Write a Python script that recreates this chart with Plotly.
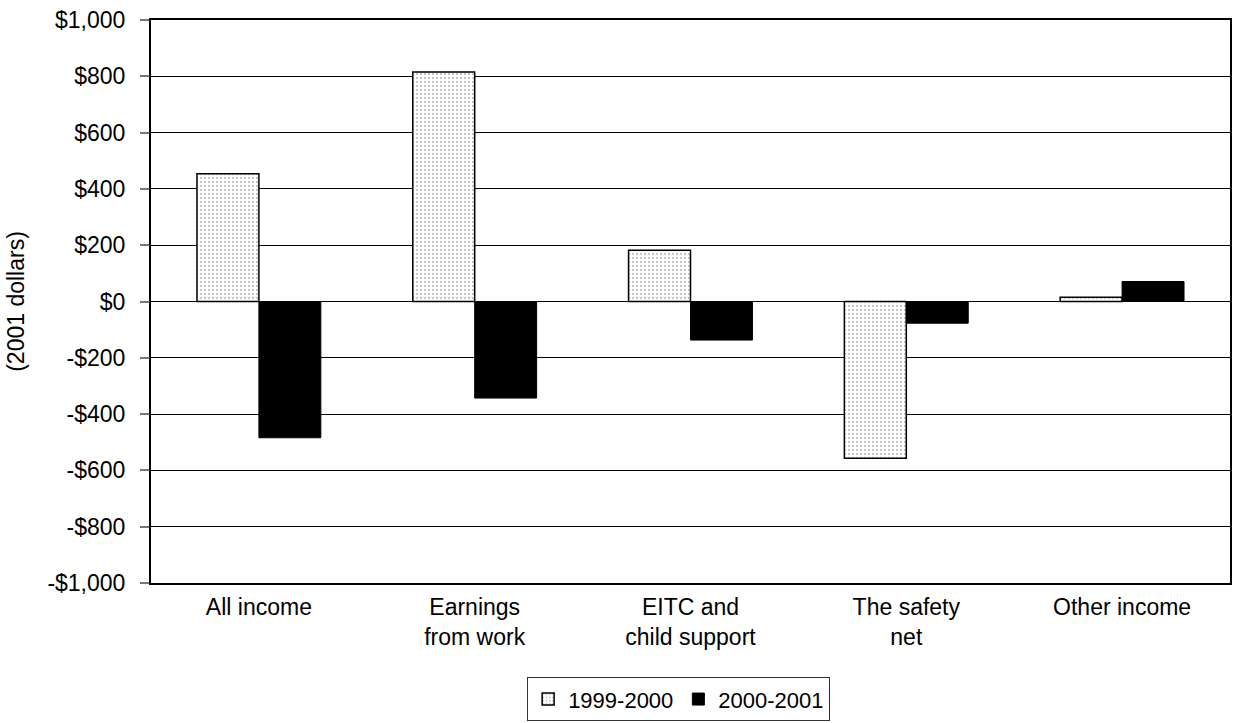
import plotly.graph_objects as go

# Change in average annual income by source (2001 dollars)
categories = ["All income", "Earnings<br>from work", "EITC and<br>child support",
              "The safety<br>net", "Other income"]
change_1999_2000 = [454, 815, 182, -557, 15]
change_2000_2001 = [-484, -343, -137, -77, 71]
series_names = ["1999-2000", "2000-2001"]
y_ticks = [-1000, -800, -600, -400, -200, 0, 200, 400, 600, 800, 1000]
y_tick_text = ["-$1,000", "-$800", "-$600", "-$400", "-$200", "$0",
               "$200", "$400", "$600", "$800", "$1,000"]

FONT = "Liberation Sans, Arial, sans-serif"

fig = go.Figure()
fig.add_trace(go.Bar(
    x=categories, y=change_1999_2000, name=series_names[0],
    marker=dict(
        color="white",
        line=dict(color="black", width=1.5),
        pattern=dict(shape=".", fgcolor="#8a8a8a", bgcolor="white",
                     size=4, solidity=0.25),
    ),
))
fig.add_trace(go.Bar(
    x=categories, y=change_2000_2001, name=series_names[1],
    marker=dict(color="black", line=dict(color="black", width=1)),
))

fig.update_layout(
    width=1233, height=723,
    margin=dict(l=151, r=1, t=20, b=140),
    paper_bgcolor="white", plot_bgcolor="white",
    barmode="group", bargap=0.426, bargroupgap=0,
    font=dict(family=FONT, size=23, color="black"),
    showlegend=True,
    legend=dict(
        orientation="h", x=0.489, xanchor="center", y=-0.2456, yanchor="bottom",
        bordercolor="#333333", borderwidth=1, bgcolor="white",
        font=dict(size=22), itemwidth=30, tracegroupgap=0,
    ),
)
fig.update_xaxes(
    showline=True, linecolor="black", linewidth=2, mirror=True,
    ticks="", showgrid=False, tickfont=dict(size=23),
    ticklabelstandoff=2,
)
fig.update_yaxes(
    range=[-1000, 1000], tickvals=y_ticks, ticktext=y_tick_text,
    showline=True, linecolor="black", linewidth=2, mirror=True,
    showgrid=True, gridcolor="black", gridwidth=1,
    zeroline=True, zerolinecolor="black", zerolinewidth=1,
    ticks="outside", ticklen=9, tickcolor="#777777", tickwidth=2,
    ticklabelstandoff=10, tickfont=dict(size=23),
    title=dict(text="(2001 dollars)", font=dict(size=23), standoff=16),
)

fig.write_html("out.html")
